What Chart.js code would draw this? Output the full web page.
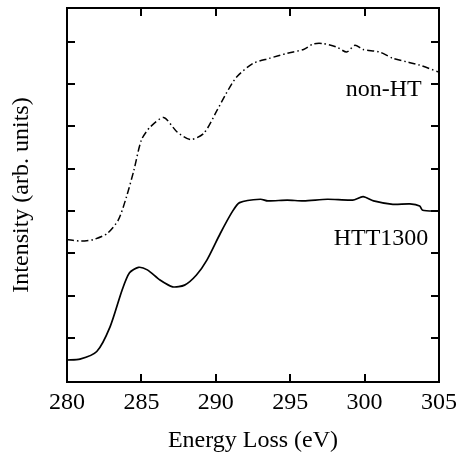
<!DOCTYPE html>
<html>
<head>
<meta charset="utf-8">
<script src="https://cdn.jsdelivr.net/npm/chart.js@4/dist/chart.umd.min.js"></script>
<style>
  html, body { margin: 0; padding: 0; background: #fff; }
  #wrap { width: 463px; height: 455px; }
</style>
</head>
<body>
<div id="wrap"><canvas id="eelsChart" width="463" height="455"></canvas></div>
<script>
// energy loss (eV) and intensity (arb. units)
const nonHtEnergy = [280.0, 280.9, 281.8, 282.7, 283.45, 284.0, 284.5, 285.0, 285.6, 286.5, 287.4, 288.3, 289.2, 290.1, 290.7, 291.4, 292.5, 293.6, 294.8, 295.9, 296.55, 297.2, 298.1, 298.8, 299.35, 299.9, 301.0, 301.9, 302.8, 303.7, 304.95];
const nonHtIntensity = [3.33, 3.29, 3.33, 3.47, 3.79, 4.34, 4.97, 5.68, 5.99, 6.21, 5.87, 5.69, 5.84, 6.39, 6.78, 7.17, 7.49, 7.61, 7.73, 7.82, 7.95, 7.96, 7.88, 7.76, 7.92, 7.82, 7.76, 7.61, 7.53, 7.45, 7.29];

const httEnergy = [280.0, 280.87, 282.0, 282.9, 283.7, 284.2, 284.8, 285.4, 286.25, 287.1, 287.9, 288.7, 289.4, 290.3, 291.1, 291.6, 293.0, 293.5, 294.8, 295.9, 297.5, 299.2, 299.9, 300.6, 301.9, 303.05, 303.7, 303.9, 304.9];
const httIntensity = [0.48, 0.50, 0.68, 1.27, 2.13, 2.54, 2.67, 2.61, 2.37, 2.21, 2.25, 2.49, 2.84, 3.47, 3.98, 4.20, 4.28, 4.24, 4.26, 4.24, 4.28, 4.26, 4.34, 4.24, 4.16, 4.17, 4.12, 4.02, 4.00];

const xTicks = [280, 285, 290, 295, 300, 305];
const yTicks = [1, 2, 3, 4, 5, 6, 7, 8];

const curveLabels = [
  { text: "non-HT", x: 303.84, y: 6.72 },
  { text: "HTT1300", x: 304.28, y: 3.2 }
];

const serif = "'Liberation Serif', 'DejaVu Serif', serif";

function toPoints(xs, ys) {
  return xs.map((x, i) => ({ x: x, y: ys[i] }));
}

// frame with inward ticks on all four sides, plus the curve labels
const framePlugin = {
  id: "frame",
  afterDatasetsDraw(chart) {
    const ctx = chart.ctx;
    const a = chart.chartArea;
    const xs = chart.scales.x;
    const ys = chart.scales.y;
    const len = 8;
    ctx.save();
    ctx.strokeStyle = "#000";
    ctx.lineWidth = 2;
    ctx.beginPath();
    xTicks.forEach(v => {
      if (v <= xs.min || v >= xs.max) return;
      const px = Math.round(xs.getPixelForValue(v));
      ctx.moveTo(px, a.bottom); ctx.lineTo(px, a.bottom - len);
      ctx.moveTo(px, a.top); ctx.lineTo(px, a.top + len);
    });
    yTicks.forEach(v => {
      const py = Math.round(ys.getPixelForValue(v));
      ctx.moveTo(a.left, py); ctx.lineTo(a.left + len, py);
      ctx.moveTo(a.right, py); ctx.lineTo(a.right - len, py);
    });
    ctx.stroke();
    ctx.strokeRect(a.left, a.top, a.right - a.left, a.bottom - a.top);

    ctx.fillStyle = "#000";
    ctx.font = "24px " + serif;
    ctx.textAlign = "right";
    ctx.textBaseline = "alphabetic";
    curveLabels.forEach(l => {
      ctx.fillText(l.text, xs.getPixelForValue(l.x), ys.getPixelForValue(l.y));
    });
    ctx.restore();
  }
};

new Chart(document.getElementById("eelsChart").getContext("2d"), {
  type: "line",
  data: {
    datasets: [
      {
        label: "non-HT",
        data: toPoints(nonHtEnergy, nonHtIntensity),
        borderColor: "#000",
        borderWidth: 1.5,
        borderDash: [7, 3, 1.5, 3],
        pointRadius: 0,
        tension: 0.25,
        fill: false
      },
      {
        label: "HTT1300",
        data: toPoints(httEnergy, httIntensity),
        borderColor: "#000",
        borderWidth: 1.7,
        pointRadius: 0,
        tension: 0.25,
        fill: false
      }
    ]
  },
  options: {
    responsive: false,
    animation: false,
    devicePixelRatio: 1,
    layout: { padding: { left: 0, right: 24, top: 8, bottom: 0 } },
    plugins: {
      legend: { display: false },
      tooltip: { enabled: false }
    },
    scales: {
      x: {
        type: "linear",
        min: 280,
        max: 305,
        afterBuildTicks: s => { s.ticks = xTicks.map(v => ({ value: v })); },
        afterFit: s => { s.height = 73; },
        grid: { display: false, drawTicks: false },
        border: { display: false },
        ticks: {
          padding: 6,
          color: "#000",
          font: { family: serif, size: 24 },
          maxRotation: 0
        },
        title: {
          display: true,
          text: "Energy Loss (eV)",
          color: "#000",
          font: { family: serif, size: 24 },
          padding: { top: 3, bottom: 0 }
        }
      },
      y: {
        type: "linear",
        min: -0.04,
        max: 8.8,
        afterFit: s => { s.width = 67; },
        grid: { display: false, drawTicks: false },
        border: { display: false },
        ticks: { display: false },
        title: {
          display: true,
          text: "Intensity (arb. units)",
          color: "#000",
          font: { family: serif, size: 24 },
          padding: { top: 7, bottom: 0 }
        }
      }
    }
  },
  plugins: [framePlugin]
});
</script>
</body>
</html>
